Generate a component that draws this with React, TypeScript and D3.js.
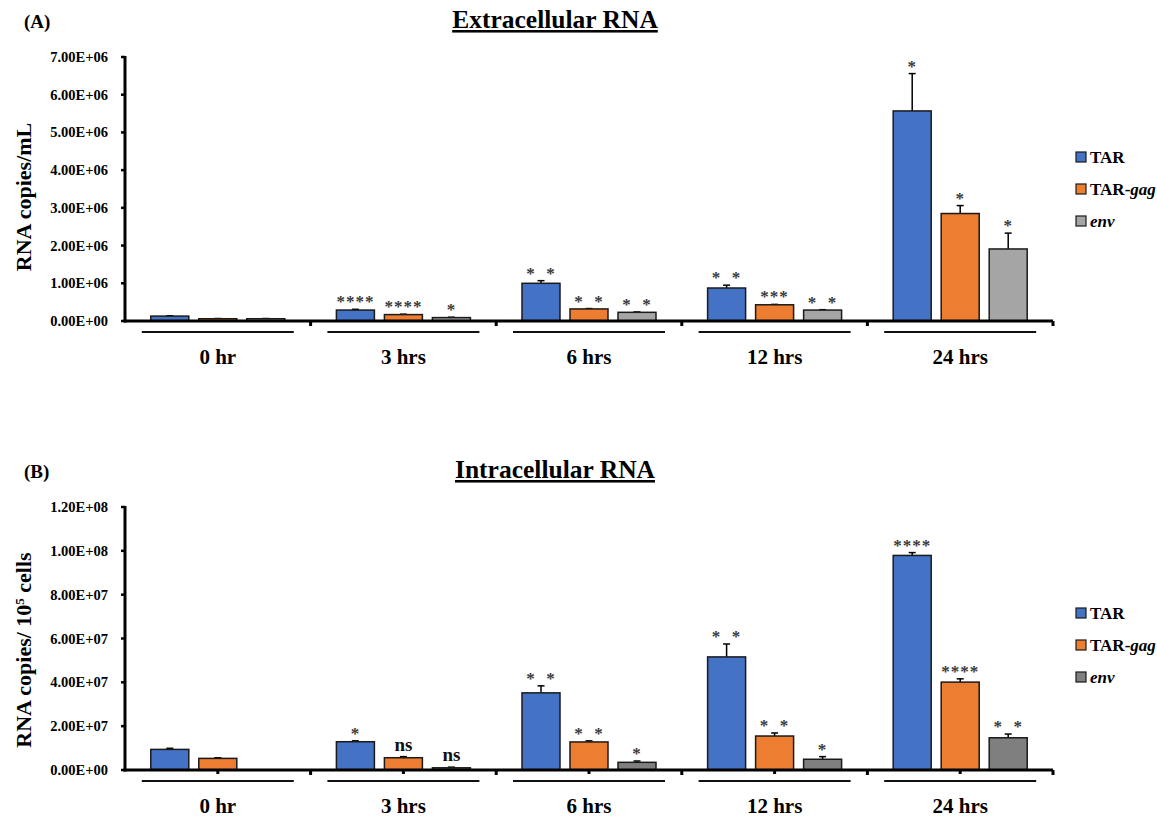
import React from "react";
import * as d3 from "d3";

const categories = ["0 hr", "3 hrs", "6 hrs", "12 hrs", "24 hrs"];
const series = ["TAR", "TAR-gag", "env"];

// Panel A: Extracellular RNA (copies/mL)
const extraTAR = [0.13e6, 0.29e6, 1.0e6, 0.875e6, 5.57e6];
const extraTARgag = [0.06e6, 0.17e6, 0.32e6, 0.43e6, 2.85e6];
const extraEnv = [0.06e6, 0.09e6, 0.23e6, 0.29e6, 1.91e6];
const extraTARerr = [0.01e6, 0.02e6, 0.07e6, 0.075e6, 0.99e6];
const extraTARgagErr = [0.005e6, 0.01e6, 0.01e6, 0.01e6, 0.21e6];
const extraEnvErr = [0.005e6, 0.01e6, 0.01e6, 0.01e6, 0.42e6];
const extraSig = [
  ["", "****", "* *", "* *", "*"],
  ["", "****", "* *", "***", "*"],
  ["", "*", "* *", "* *", "*"],
];
const extraTicks = [0, 1e6, 2e6, 3e6, 4e6, 5e6, 6e6, 7e6];
const extraTickLabels = ["0.00E+00", "1.00E+06", "2.00E+06", "3.00E+06", "4.00E+06", "5.00E+06", "6.00E+06", "7.00E+06"];

// Panel B: Intracellular RNA (copies / 10^5 cells)
const intraTAR = [0.94e7, 1.29e7, 3.52e7, 5.16e7, 9.79e7];
const intraTARgag = [0.53e7, 0.56e7, 1.28e7, 1.55e7, 4.01e7];
const intraEnv: (number | null)[] = [null, 0.1e7, 0.35e7, 0.49e7, 1.47e7];
const intraTARerr = [0.05e7, 0.04e7, 0.32e7, 0.59e7, 0.13e7];
const intraTARgagErr = [0.03e7, 0.05e7, 0.05e7, 0.14e7, 0.15e7];
const intraEnvErr = [0, 0.03e7, 0.06e7, 0.12e7, 0.17e7];
const intraSig = [
  ["", "*", "* *", "* *", "****"],
  ["", "ns", "* *", "* *", "****"],
  ["", "ns", "*", "*", "* *"],
];
const intraTicks = [0, 2e7, 4e7, 6e7, 8e7, 10e7, 12e7];
const intraTickLabels = ["0.00E+00", "2.00E+07", "4.00E+07", "6.00E+07", "8.00E+07", "1.00E+08", "1.20E+08"];

const FONT = "'Liberation Serif', 'Times New Roman', serif";
const BLUE = "#4472c4";
const ORANGE = "#ed7d31";

type PanelProps = {
  values: (number | null)[][];
  errors: number[][];
  sig: string[][];
  ticks: number[];
  tickLabels: string[];
  yMax: number;
  yTop: number;
  yBottom: number;
  colors: string[];
  title: string;
  panelLabel: string;
  titleY: number;
  yLabel: React.ReactNode;
  yLabelY: number;
  legendY: number[];
  centerTicks: boolean;
};

const X0 = 125;
const X1 = 1053;

function Panel(p: PanelProps) {
  const x = d3.scaleBand<string>().domain(categories).range([X0, X1]).paddingInner(0).paddingOuter(0);
  const xi = d3.scaleBand<string>().domain(series).range([-67, 67]).paddingInner(10 / 48).paddingOuter(0);
  const y = d3.scaleLinear().domain([0, p.yMax]).range([p.yBottom, p.yTop]);
  const bw = xi.bandwidth();
  const sepY = p.yBottom + 11;
  const labY = p.yBottom + 43;

  return (
    <g>
      <text x={24} y={p.titleY} fontFamily={FONT} fontWeight="bold" fontSize={19}>{p.panelLabel}</text>
      <text x={555} y={p.titleY} textAnchor="middle" fontFamily={FONT} fontWeight="bold" fontSize={25.5} textDecoration="underline">{p.title}</text>
      <text transform={`translate(31,${p.yLabelY}) rotate(-90)`} textAnchor="middle" fontFamily={FONT} fontWeight="bold" fontSize={22}>{p.yLabel}</text>

      {/* y ticks */}
      {p.ticks.map((t, i) => (
        <g key={i}>
          <line x1={X0 - 4} x2={X0} y1={y(t)} y2={y(t)} stroke="#000" strokeWidth={2.5} />
          <text x={108} y={y(t) + 5} textAnchor="end" fontFamily={FONT} fontWeight="bold" fontSize={14.5}>{p.tickLabels[i]}</text>
        </g>
      ))}

      {/* bars */}
      {series.map((s, si) =>
        categories.map((c, ci) => {
          const v = p.values[si][ci];
          if (v === null) return null;
          const cx = (x(c) as number) + x.bandwidth() / 2;
          const bx = cx + (xi(s) as number);
          const e = p.errors[si][ci];
          const top = y(v);
          const et = y(v + e);
          const lab = p.sig[si][ci];
          const isNs = lab === "ns";
          return (
            <g key={`${si}-${ci}`}>
              {e > 0 && (
                <g stroke="#000" strokeWidth={1.5}>
                  <line x1={bx + bw / 2} x2={bx + bw / 2} y1={top} y2={et} />
                  <line x1={bx + bw / 2 - 3.5} x2={bx + bw / 2 + 3.5} y1={et} y2={et} />
                </g>
              )}
              <rect x={bx} y={top} width={bw} height={p.yBottom - top} fill={p.colors[si]} stroke="#1a1a1a" strokeWidth={1.5} />
              {lab && (
                <text
                  x={bx + bw / 2}
                  y={isNs ? et - 6 : et - 2}
                  textAnchor="middle"
                  fontFamily={FONT}
                  fontWeight="bold"
                  fontSize={isNs ? 19 : 17}
                  letterSpacing={isNs ? 0 : 1}
                  fill={isNs ? "#111" : "#3a3a3a"}
                  style={{ whiteSpace: "pre" }}
                >
                  {lab === "* *" ? "*  *" : lab}
                </text>
              )}
            </g>
          );
        })
      )}

      {/* axes */}
      <line x1={X0} x2={X0} y1={p.yTop - 1} y2={p.yBottom + 1.5} stroke="#000" strokeWidth={3} />
      <line x1={X0 - 1.5} x2={X1} y1={p.yBottom} y2={p.yBottom} stroke="#000" strokeWidth={3} />
      {categories.map((c, ci) => (
        <rect key={`b${ci}`} x={(x(c) as number) + x.bandwidth() - 1.5} y={p.yBottom} width={3} height={5} fill="#000" />
      ))}
      {p.centerTicks &&
        categories.map((c, ci) => (
          <rect key={`m${ci}`} x={(x(c) as number) + x.bandwidth() / 2 - 1.5} y={p.yBottom} width={3} height={4} fill="#000" />
        ))}

      {/* category separators and labels */}
      {categories.map((c, ci) => {
        const cx = (x(c) as number) + x.bandwidth() / 2;
        return (
          <g key={`c${ci}`}>
            <line x1={cx - 76} x2={cx + 76} y1={sepY} y2={sepY} stroke="#111" strokeWidth={1.8} />
            <text x={cx} y={labY} textAnchor="middle" fontFamily={FONT} fontWeight="bold" fontSize={21}>{c}</text>
          </g>
        );
      })}

      {/* legend */}
      {series.map((s, si) => (
        <g key={`l${si}`}>
          <rect x={1076} y={p.legendY[si] - 5} width={10} height={10} fill={p.colors[si]} stroke="#1a1a1a" strokeWidth={1.2} />
          <text x={1090} y={p.legendY[si] + 6} fontFamily={FONT} fontWeight="bold" fontSize={17}>
            {si === 0 && "TAR"}
            {si === 1 && (
              <>
                TAR-<tspan fontStyle="italic">gag</tspan>
              </>
            )}
            {si === 2 && <tspan fontStyle="italic">env</tspan>}
          </text>
        </g>
      ))}
    </g>
  );
}

export default function App() {
  return (
    <svg width={1157} height={819} style={{ display: "block", position: "absolute", left: 0, top: 0, background: "#fff" }}>
      <rect width={1157} height={819} fill="#fff" />
      <Panel
        values={[extraTAR, extraTARgag, extraEnv]}
        errors={[extraTARerr, extraTARgagErr, extraEnvErr]}
        sig={extraSig}
        ticks={extraTicks}
        tickLabels={extraTickLabels}
        yMax={7e6}
        yTop={57}
        yBottom={321}
        colors={[BLUE, ORANGE, "#a5a5a5"]}
        title="Extracellular RNA"
        panelLabel="(A)"
        titleY={28}
        yLabel="RNA copies/mL"
        yLabelY={197}
        legendY={[157, 189, 221]}
        centerTicks={false}
      />
      <Panel
        values={[intraTAR, intraTARgag, intraEnv]}
        errors={[intraTARerr, intraTARgagErr, intraEnvErr]}
        sig={intraSig}
        ticks={intraTicks}
        tickLabels={intraTickLabels}
        yMax={12e7}
        yTop={507}
        yBottom={770}
        colors={[BLUE, ORANGE, "#7f7f7f"]}
        title="Intracellular RNA"
        panelLabel="(B)"
        titleY={478}
        yLabel={
          <>
            RNA copies/ 10<tspan baselineShift="super" fontSize={13}>5</tspan> cells
          </>
        }
        yLabelY={650}
        legendY={[613, 645, 677]}
        centerTicks={true}
      />
    </svg>
  );
}
